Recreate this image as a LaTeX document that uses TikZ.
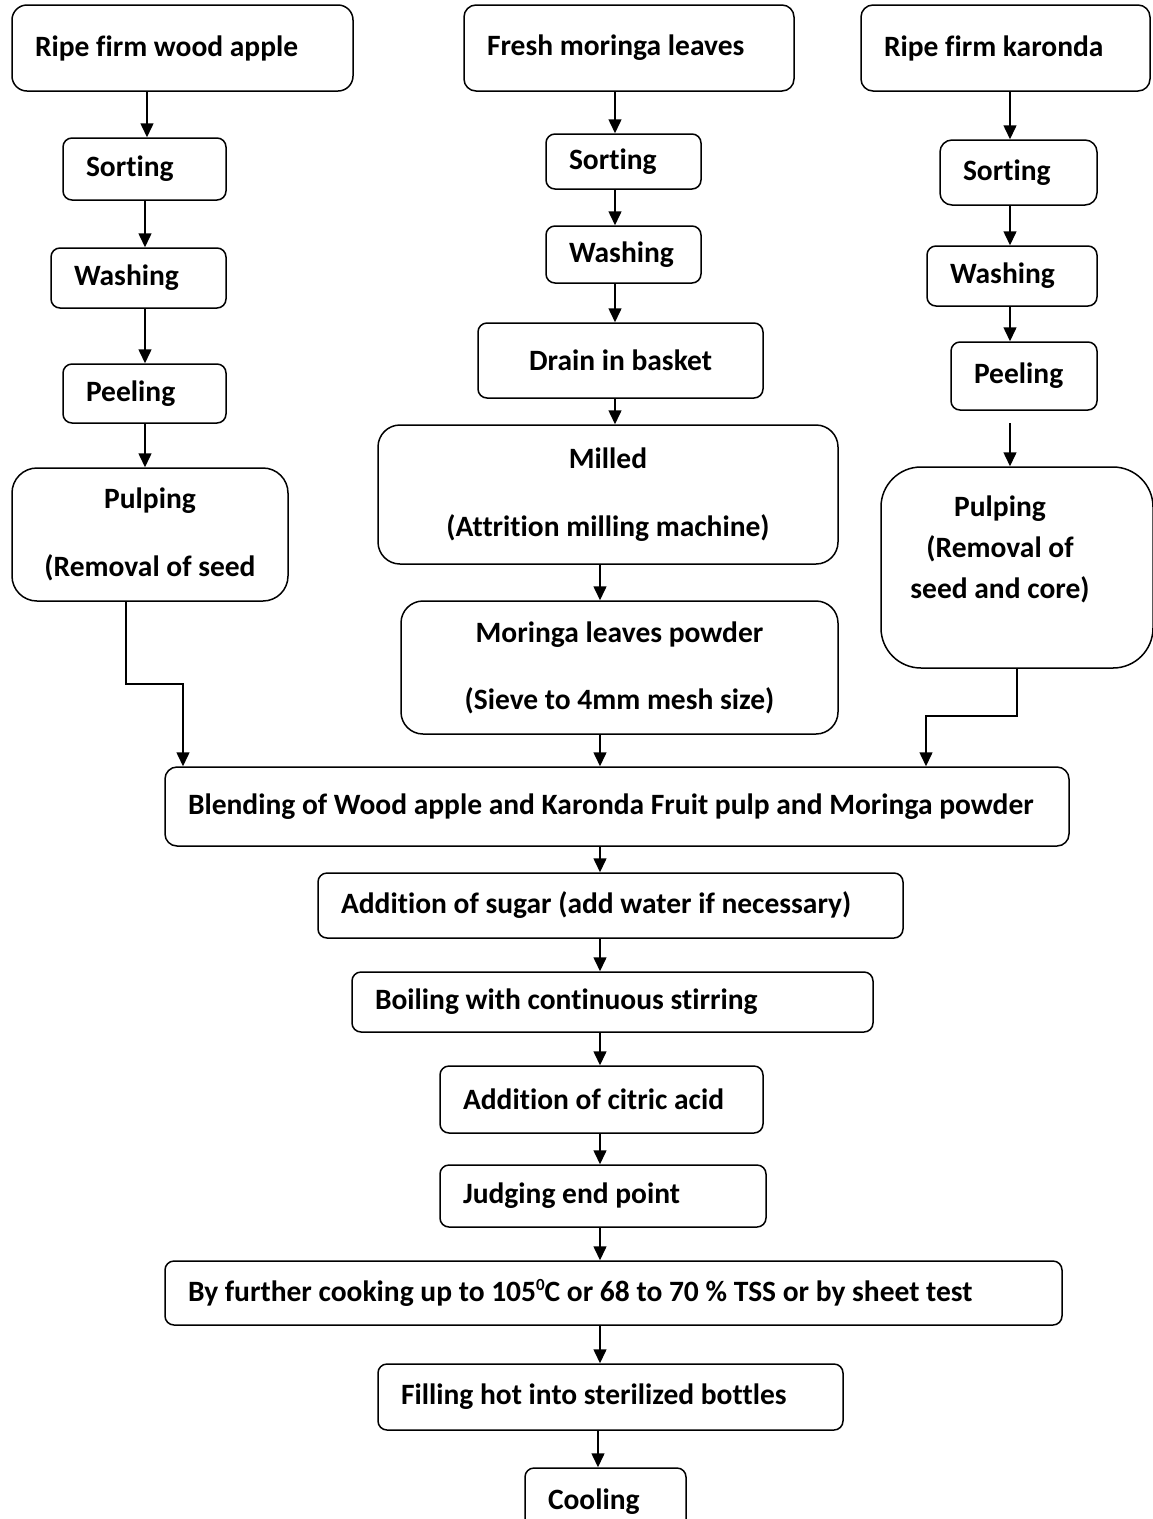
\documentclass[tikz,border=0pt]{standalone}
\usepackage{fontspec}
\setmainfont[Ligatures=NoCommon]{Carlito}
\usetikzlibrary{arrows.meta}

\tikzset{
  stepbox/.style={draw=black, line width=1.5pt, rounded corners=9pt, inner xsep=23pt, inner ysep=0pt,
    align=flush left, font=\fontsize{29.5}{41}\selectfont\bfseries},
  flow/.style={-{Triangle[length=14pt,width=13pt]}, line width=1.5pt}
}

\begin{document}
\begin{tikzpicture}[x=1pt,y=-1pt]
    \clip (0,0) rectangle (1153,1519);
    % wood apple
    \node[stepbox,rounded corners=15pt,text width=295pt,minimum height=86pt] (wa) at (182.5,48) {Ripe firm wood apple};
    \node[stepbox,text width=117pt,minimum height=62pt] (sorta) at (144.5,169) {Sorting};
    \node[stepbox,text width=129pt,minimum height=60pt] (washa) at (138.5,278) {Washing};
    \node[stepbox,text width=117pt,minimum height=59pt] (peela) at (144.5,393.5) {Peeling};
    \node[stepbox,rounded corners=25pt,align=flush center,text width=230pt,minimum height=133pt] (pulpa) at (150,534.5) {Pulping\\[27pt](Removal of seed};
    % moringa
    \node[stepbox,rounded corners=12pt,text width=284pt,minimum height=86pt] (ml) at (629,48) {Fresh moringa leaves};
    \node[stepbox,text width=109pt,minimum height=55pt] (sortm) at (623.5,161.5) {Sorting};
    \node[stepbox,text width=109pt,minimum height=57pt] (washm) at (623.5,254.5) {Washing};
    \node[stepbox,align=flush center,text width=239pt,minimum height=75pt] (drain) at (620.5,360.5) {Drain in basket};
    \node[stepbox,rounded corners=22pt,align=flush center,text width=414pt,minimum height=139pt] (milled) at (608,494.5) {Milled\\[27pt](Attrition milling machine)};
    \node[stepbox,rounded corners=22pt,align=flush center,text width=391pt,minimum height=133pt] (powder) at (619.5,667.5) {Moringa leaves powder\\[26pt](Sieve to 4mm mesh size)};
    % karonda
    \node[stepbox,rounded corners=12pt,text width=243pt,minimum height=86pt] (kr) at (1005.5,48) {Ripe firm karonda};
    \node[stepbox,rounded corners=12pt,text width=111pt,minimum height=65pt] (sortk) at (1018.5,172.5) {Sorting};
    \node[stepbox,text width=124pt,minimum height=60pt] (washk) at (1012,276) {Washing};
    \node[stepbox,text width=100pt,minimum height=68pt] (peelk) at (1024,376) {Peeling};
    \node[stepbox,rounded corners=40pt,align=flush center,text width=226pt,minimum height=201pt] (pulpk) at (1017,567.5) {\rightskip=34pt plus 1fil Pulping\\(Removal of\\seed and core)\\\mbox{}};
    % jam
    \node[stepbox,rounded corners=12pt,text width=858pt,minimum height=79pt] (blend) at (617,806.5) {Blending of Wood apple and Karonda Fruit pulp and Moringa powder};
    \node[stepbox,text width=539pt,minimum height=65pt] (sugar) at (610.5,905.5) {Addition of sugar (add water if necessary)};
    \node[stepbox,text width=475pt,minimum height=60pt] (boil) at (612.5,1002) {Boiling with continuous stirring};
    \node[stepbox,text width=277pt,minimum height=67pt] (citric) at (601.5,1099.5) {Addition of citric acid};
    \node[stepbox,text width=280pt,minimum height=62pt] (judge) at (603,1196) {Judging end point};
    \node[stepbox,text width=851pt,minimum height=64pt] (cook) at (613.5,1293) {By further cooking up to 105\raisebox{11pt}{\fontsize{17}{17}\selectfont 0}C or 68 to 70 \% TSS or by sheet test};
    \node[stepbox,text width=419pt,minimum height=66pt] (fill) at (610.5,1397) {Filling hot into sterilized bottles};
    \node[stepbox,text width=115pt,minimum height=68pt] (cool) at (605.5,1502) {Cooling};

    \draw[flow] (wa.south -| 147,0) -- (sorta.north -| 147,0);
    \draw[flow] (sorta.south -| 145,0) -- (washa.north -| 145,0);
    \draw[flow] (washa.south -| 145,0) -- (peela.north -| 145,0);
    \draw[flow] (peela.south -| 145,0) -- (pulpa.north -| 145,0);
    \draw[flow] (pulpa.south -| 126,0) -- (126,684) -| (blend.north -| 183,0);

    \draw[flow] (ml.south -| 615,0) -- (sortm.north -| 615,0);
    \draw[flow] (sortm.south -| 615,0) -- (washm.north -| 615,0);
    \draw[flow] (washm.south -| 615,0) -- (drain.north -| 615,0);
    \draw[flow] (drain.south -| 615,0) -- (milled.north -| 615,0);
    \draw[flow] (milled.south -| 600,0) -- (powder.north -| 600,0);
    \draw[flow] (powder.south -| 600,0) -- (blend.north -| 600,0);

    \draw[flow] (kr.south -| 1010,0) -- (sortk.north -| 1010,0);
    \draw[flow] (sortk.south -| 1010,0) -- (washk.north -| 1010,0);
    \draw[flow] (washk.south -| 1010,0) -- (peelk.north -| 1010,0);
    \draw[flow] (1010,423) -- (pulpk.north -| 1010,0);
    \draw[flow] (pulpk.south -| 1017,0) -- (1017,716) -| (blend.north -| 926,0);

    \draw[flow] (blend.south -| 600,0) -- (sugar.north -| 600,0);
    \draw[flow] (sugar.south -| 600,0) -- (boil.north -| 600,0);
    \draw[flow] (boil.south -| 600,0) -- (citric.north -| 600,0);
    \draw[flow] (citric.south -| 600,0) -- (judge.north -| 600,0);
    \draw[flow] (judge.south -| 600,0) -- (cook.north -| 600,0);
    \draw[flow] (cook.south -| 600,0) -- (fill.north -| 600,0);
    \draw[flow] (fill.south -| 598,0) -- (cool.north -| 598,0);
\end{tikzpicture}
\end{document}
